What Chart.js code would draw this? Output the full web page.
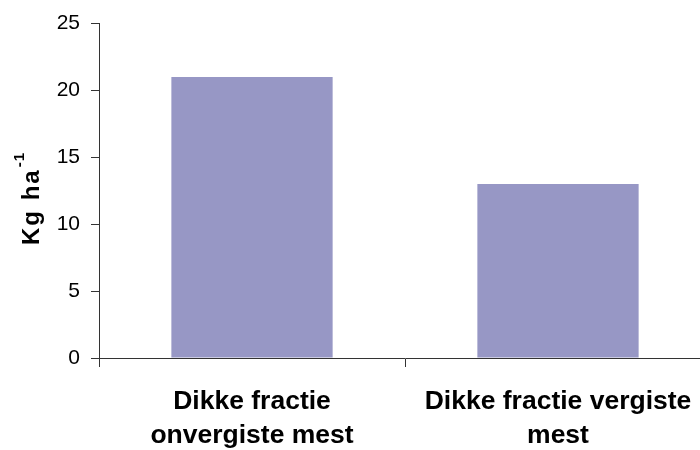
<!DOCTYPE html>
<html>
<head>
<meta charset="utf-8">
<script src="https://cdn.jsdelivr.net/npm/chart.js@4/dist/chart.umd.min.js"></script>
<style>
  html, body { margin: 0; padding: 0; background: #fff; overflow: hidden; }
  #wrap { width: 712px; height: 450px; }
</style>
</head>
<body>
<div id="wrap"><canvas id="c" width="712" height="450"></canvas></div>
<script>
// Categories (two-line labels) and values in kg per hectare
const categories = [
  ['Dikke fractie', 'onvergiste mest'],
  ['Dikke fractie vergiste', 'mest']
];
const values = [21, 13];
const yTicks = [0, 5, 10, 15, 20, 25];

const axisColor = '#333333';
const barColor = '#9797c5';
const fontFamily = '"Liberation Sans", Arial, sans-serif';

// Rotated y-axis title "Kg ha" with a superscript "-1"
const yTitlePlugin = {
  id: 'yTitle',
  afterDraw(chart) {
    const ctx = chart.ctx;
    const mainText = 'Kg ha';
    const supText = '-1';
    const mainFont = 'bold 24px ' + fontFamily;
    const supFont = 'bold 15px ' + fontFamily;
    ctx.save();
    ctx.letterSpacing = '2px';
    ctx.font = mainFont;
    const wMain = ctx.measureText(mainText).width;
    ctx.translate(39, 245);
    ctx.rotate(-Math.PI / 2);
    ctx.fillStyle = '#000';
    ctx.textBaseline = 'alphabetic';
    ctx.textAlign = 'left';
    ctx.fillText(mainText, 0, 0);
    ctx.letterSpacing = '1px';
    ctx.font = supFont;
    ctx.fillText(supText, wMain + 1, -15);
    ctx.restore();
  }
};

new Chart(document.getElementById('c'), {
  type: 'bar',
  data: {
    labels: categories,
    datasets: [{
      data: values,
      backgroundColor: barColor,
      borderWidth: 0,
      categoryPercentage: 1,
      barPercentage: 0.527
    }]
  },
  options: {
    responsive: false,
    animation: false,
    events: [],
    layout: { padding: { left: 45, top: 23, right: 1, bottom: 0 } },
    plugins: {
      legend: { display: false },
      tooltip: { enabled: false }
    },
    scales: {
      x: {
        grid: {
          drawOnChartArea: false,
          drawTicks: true,
          tickLength: 9,
          color: axisColor,
          offset: true
        },
        border: { display: true, color: axisColor, width: 1 },
        ticks: {
          color: '#000',
          padding: 18,
          maxRotation: 0,
          autoSkip: false,
          font: { family: fontFamily, size: 26.5, weight: 'bold', lineHeight: 1.28 }
        },
        afterFit(scale) { scale.height = 92; }
      },
      y: {
        min: 0,
        max: 25,
        afterBuildTicks(scale) { scale.ticks = yTicks.map(v => ({ value: v })); },
        grid: {
          drawOnChartArea: false,
          drawTicks: true,
          tickLength: 8,
          color: axisColor
        },
        border: { display: true, color: axisColor, width: 1 },
        ticks: {
          color: '#000',
          padding: 11,
          font: { family: fontFamily, size: 21 }
        },
        afterFit(scale) { scale.width = 54; }
      }
    }
  },
  plugins: [yTitlePlugin]
});
</script>
</body>
</html>
